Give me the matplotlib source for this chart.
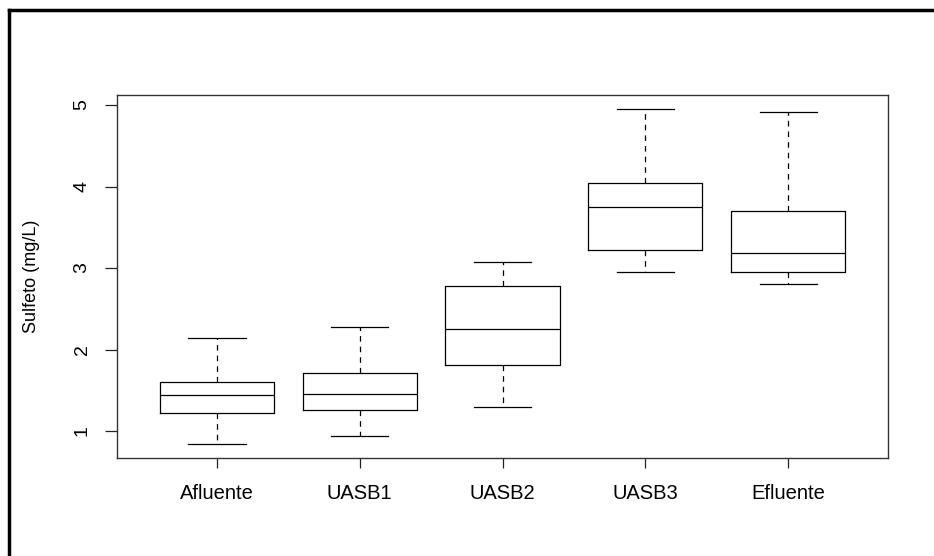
import matplotlib
matplotlib.use("Agg")
import matplotlib.pyplot as plt
from matplotlib.lines import Line2D

plt.rcParams['font.family'] = ['Liberation Sans', 'DejaVu Sans']

categories = ["Afluente", "UASB1", "UASB2", "UASB3", "Efluente"]
whisker_low = [0.84, 0.94, 1.29, 2.95, 2.81]
q1 = [1.225, 1.254, 1.806, 3.22, 2.95]
median = [1.44, 1.45, 2.248, 3.745, 3.18]
q3 = [1.605, 1.715, 2.78, 4.04, 3.70]
whisker_high = [2.145, 2.28, 3.08, 4.947, 4.92]
y_ticks = [1, 2, 3, 4, 5]

stats = []
for i, name in enumerate(categories):
    stats.append(dict(label=name, whislo=whisker_low[i], q1=q1[i], med=median[i],
                      q3=q3[i], whishi=whisker_high[i], fliers=[]))

fig = plt.figure(figsize=(9.34, 5.56), dpi=100)
ax = fig.add_axes([117/934, 1-458/556, (888-117)/934, (458-95)/556])

lw = 0.9
ax.bxp(stats, positions=range(1, len(categories)+1), widths=0.8,
       showfliers=False,
       boxprops=dict(color='black', linewidth=lw),
       medianprops=dict(color='black', linewidth=lw),
       whiskerprops=dict(color='black', linewidth=lw, linestyle=(0, (4.5, 4))),
       capprops=dict(color='black', linewidth=lw),
       capwidths=0.4)

ax.set_xlim(0.3, 5.7)
ax.set_ylim(0.669, 5.123)
ax.set_yticks(y_ticks)
ax.set_yticklabels([str(t) for t in y_ticks], rotation=90, va='center', fontsize=14)
ax.set_xticks(range(1, len(categories)+1))
ax.set_xticklabels(categories, fontsize=14.5)
ax.tick_params(axis='x', length=7.5, width=0.9, pad=11, colors='#222222', labelcolor='black')
ax.tick_params(axis='y', length=9, width=0.9, pad=10, colors='#222222', labelcolor='black')
for s in ax.spines.values():
    s.set_linewidth(1.0)
    s.set_color('#333333')
ax.set_ylabel("Sulfeto (mg/L)", fontsize=13)
ax.yaxis.set_label_coords(-(117-40)/771, 0.5)

# outer frame (partially cropped)
fig.add_artist(Line2D([8.5/934, 8.5/934], [0, 1-10/556], transform=fig.transFigure,
                      color='black', linewidth=2.5, solid_capstyle='projecting'))
fig.add_artist(Line2D([8.5/934, 1], [1-10/556, 1-10/556], transform=fig.transFigure,
                      color='black', linewidth=2.5, solid_capstyle='projecting'))

fig.savefig("out.png", dpi=100)
